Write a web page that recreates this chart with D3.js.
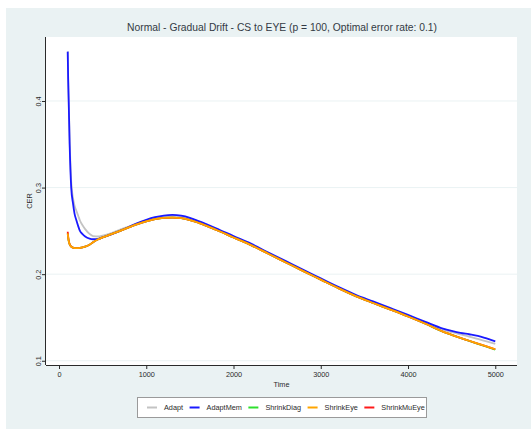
<!DOCTYPE html>
<html>
<head>
<meta charset="utf-8">
<script src="https://cdn.jsdelivr.net/npm/d3@7"></script>
<style>
  html, body { margin: 0; padding: 0; background: #ffffff; }
  svg { display: block; font-family: "Liberation Sans", Arial, sans-serif; }
</style>
</head>
<body>
<svg id="chart" width="531" height="429"></svg>
<script>
// Time points at which the classification error rate (CER) was recorded
const time = [100, 105, 111, 122, 140, 160, 178, 200, 220, 240, 270, 300, 350, 390, 450, 500,
  600, 700, 800, 900, 1000, 1100, 1200, 1300, 1400, 1500, 1600, 1800, 2000, 2200,
  2400, 2600, 2800, 3000, 3200, 3400, 3600, 3800, 4000, 4200, 4400, 4500, 4600,
  4700, 4800, 4900, 5000];

// CER per method
const adapt = [0.457, 0.426, 0.402, 0.355, 0.307, 0.288, 0.279, 0.273, 0.2675, 0.262, 0.2565, 0.252,
  0.2465, 0.2440, 0.2435, 0.2445, 0.2475, 0.2515, 0.2550, 0.2588, 0.2622, 0.2650,
  0.2668, 0.2674, 0.2667, 0.2643, 0.2606, 0.2522, 0.2432, 0.2344, 0.2242, 0.2142,
  0.2041, 0.1943, 0.1845, 0.1754, 0.1677, 0.1599, 0.1520, 0.1440, 0.1358, 0.1330,
  0.1305, 0.1280, 0.1252, 0.1223, 0.1194];
const adaptMem = [0.457, 0.425, 0.400, 0.350, 0.300, 0.282, 0.270, 0.262, 0.2555, 0.250, 0.2462, 0.2435,
  0.2410, 0.2403, 0.2408, 0.2425, 0.2460, 0.2500, 0.2545, 0.2590, 0.2628, 0.2658,
  0.2677, 0.2684, 0.2675, 0.2650, 0.2613, 0.2530, 0.2440, 0.2352, 0.2250, 0.2150,
  0.2049, 0.1951, 0.1853, 0.1762, 0.1685, 0.1608, 0.1530, 0.1449, 0.1372, 0.1345,
  0.1322, 0.1306, 0.1288, 0.1258, 0.1225];
const shrinkDiag = [0.2470, 0.2424, 0.2385, 0.2345, 0.2318, 0.2306, 0.2301, 0.2300, 0.2301, 0.2304, 0.2310, 0.2318,
  0.2340, 0.2368, 0.2403, 0.2425, 0.2462, 0.2500, 0.2540, 0.2578, 0.2610, 0.2635,
  0.2650, 0.2654, 0.2646, 0.2625, 0.2593, 0.2513, 0.2424, 0.2336, 0.2235, 0.2135,
  0.2035, 0.1937, 0.1839, 0.1747, 0.1667, 0.1590, 0.1511, 0.1427, 0.1335, 0.1299,
  0.1263, 0.1229, 0.1196, 0.1162, 0.1127];
const shrinkEye = [0.2472, 0.2425, 0.2385, 0.2345, 0.2318, 0.2306, 0.2301, 0.2300, 0.2301, 0.2304, 0.2310, 0.2318,
  0.2340, 0.2368, 0.2403, 0.2425, 0.2462, 0.2500, 0.2540, 0.2578, 0.2610, 0.2635,
  0.2650, 0.2654, 0.2646, 0.2625, 0.2593, 0.2513, 0.2424, 0.2336, 0.2235, 0.2135,
  0.2035, 0.1937, 0.1839, 0.1747, 0.1667, 0.1590, 0.1511, 0.1427, 0.1336, 0.1300,
  0.1265, 0.1231, 0.1199, 0.1166, 0.1133];
const shrinkMuEye = [0.2490, 0.2436, 0.2390, 0.2347, 0.2319, 0.2307, 0.2302, 0.2300, 0.2301, 0.2304, 0.2310, 0.2318,
  0.2340, 0.2368, 0.2403, 0.2425, 0.2462, 0.2500, 0.2540, 0.2578, 0.2610, 0.2635,
  0.2650, 0.2654, 0.2646, 0.2625, 0.2593, 0.2513, 0.2424, 0.2336, 0.2235, 0.2135,
  0.2035, 0.1937, 0.1839, 0.1747, 0.1667, 0.1590, 0.1511, 0.1427, 0.1336, 0.1300,
  0.1265, 0.1231, 0.1199, 0.1166, 0.1133];

const xTicks = [0, 1000, 2000, 3000, 4000, 5000];
const yTicks = [0.1, 0.2, 0.3, 0.4];
const yTickLabels = ["0.1", "0.2", "0.3", "0.4"];

const titleText = "Normal - Gradual Drift - CS to EYE (p = 100, Optimal error rate: 0.1)";
const xLabel = "Time";
const yLabel = "CER";

// Legend order
const series = [
  { name: "Adapt", values: adapt, color: "#c3c3c3" },
  { name: "AdaptMem", values: adaptMem, color: "#1a1aff" },
  { name: "ShrinkDiag", values: shrinkDiag, color: "#2ee02e" },
  { name: "ShrinkEye", values: shrinkEye, color: "#ffa500" },
  { name: "ShrinkMuEye", values: shrinkMuEye, color: "#ff1a1a" }
];
// Drawing order (later ones on top)
const drawOrder = ["Adapt", "AdaptMem", "ShrinkDiag", "ShrinkMuEye", "ShrinkEye"];

const svg = d3.select("#chart");
const bg = "#eaf2f3";
const ink = "#2a2a2a";

// Outer graph region
svg.append("rect").attr("x", 6).attr("y", 8).attr("width", 525).attr("height", 421).attr("fill", bg);

// Plot region
const plot = { left: 46, right: 517, top: 37, bottom: 365 };
svg.append("rect")
  .attr("x", plot.left).attr("y", plot.top)
  .attr("width", plot.right - plot.left).attr("height", plot.bottom - plot.top)
  .attr("fill", "#ffffff");

const x = d3.scaleLinear().domain([-149, 5249]).range([plot.left, plot.right]);
const y = d3.scaleLinear().domain([0.0951, 0.4739]).range([plot.bottom, plot.top]);

// Horizontal grid lines
svg.append("g").selectAll("line").data(yTicks).join("line")
  .attr("x1", plot.left).attr("x2", plot.right)
  .attr("y1", d => y(d)).attr("y2", d => y(d))
  .attr("stroke", bg).attr("stroke-width", 1);

// Series lines
const line = d3.line()
  .x((d, i) => x(time[i]))
  .y(d => y(d))
  .curve(d3.curveMonotoneX);

const byName = new Map(series.map(s => [s.name, s]));
svg.append("g").selectAll("path").data(drawOrder.map(n => byName.get(n))).join("path")
  .attr("d", s => line(s.values))
  .attr("fill", "none")
  .attr("stroke", s => s.color)
  .attr("stroke-width", 1.8)
  .attr("stroke-linejoin", "round");

// X axis
const xAxis = svg.append("g")
  .attr("transform", `translate(0,${plot.bottom})`)
  .call(d3.axisBottom(x).tickValues(xTicks).tickFormat(d3.format("d")).tickSize(4).tickSizeOuter(0).tickPadding(3));
xAxis.select(".domain").attr("stroke", ink).attr("d", `M${plot.left},0.5H${plot.right}`);
xAxis.selectAll(".tick line").attr("stroke", ink);
xAxis.selectAll(".tick text").attr("fill", ink).attr("font-size", 7.3).attr("font-family", "Liberation Sans, Arial, sans-serif");

// Y axis
const yAxis = svg.append("g")
  .attr("transform", `translate(${plot.left},0)`)
  .call(d3.axisLeft(y).tickValues(yTicks).tickFormat((d, i) => yTickLabels[i]).tickSize(4).tickSizeOuter(0));
yAxis.select(".domain").attr("stroke", ink).attr("d", `M-0.5,${plot.top}V${plot.bottom}`);
yAxis.selectAll(".tick line").attr("stroke", ink);
yAxis.selectAll(".tick text")
  .attr("fill", ink).attr("font-size", 7.3).attr("font-family", "Liberation Sans, Arial, sans-serif")
  .attr("text-anchor", "middle")
  .attr("x", 0).attr("y", -5.5).attr("dy", null)
  .attr("transform", "rotate(-90)");

// Axis titles
svg.append("text")
  .attr("x", (plot.left + plot.right) / 2).attr("y", 386.5)
  .attr("text-anchor", "middle").attr("font-size", 7.3).attr("fill", ink)
  .text(xLabel);
svg.append("text")
  .attr("transform", `translate(32.3,${(plot.top + plot.bottom) / 2}) rotate(-90)`)
  .attr("text-anchor", "middle").attr("font-size", 7.3).attr("fill", ink)
  .text(yLabel);

// Title
svg.append("text")
  .attr("x", 282).attr("y", 30.5)
  .attr("text-anchor", "middle").attr("font-size", 10.3).attr("fill", "#333a44")
  .text(titleText);

// Legend
const legend = svg.append("g");
legend.append("rect")
  .attr("x", 137.5).attr("y", 397.5).attr("width", 289).attr("height", 20)
  .attr("fill", "#ffffff").attr("stroke", "#9a9a9a").attr("stroke-width", 1);
let lx = 147;
series.forEach(s => {
  legend.append("line")
    .attr("x1", lx).attr("x2", lx + 10).attr("y1", 407.5).attr("y2", 407.5)
    .attr("stroke", s.color).attr("stroke-width", 2);
  const t = legend.append("text")
    .attr("x", lx + 17).attr("y", 410)
    .attr("font-size", 7.3).attr("fill", ink)
    .text(s.name);
  lx = lx + 17 + t.node().getComputedTextLength() + 6.5;
});
</script>
</body>
</html>
